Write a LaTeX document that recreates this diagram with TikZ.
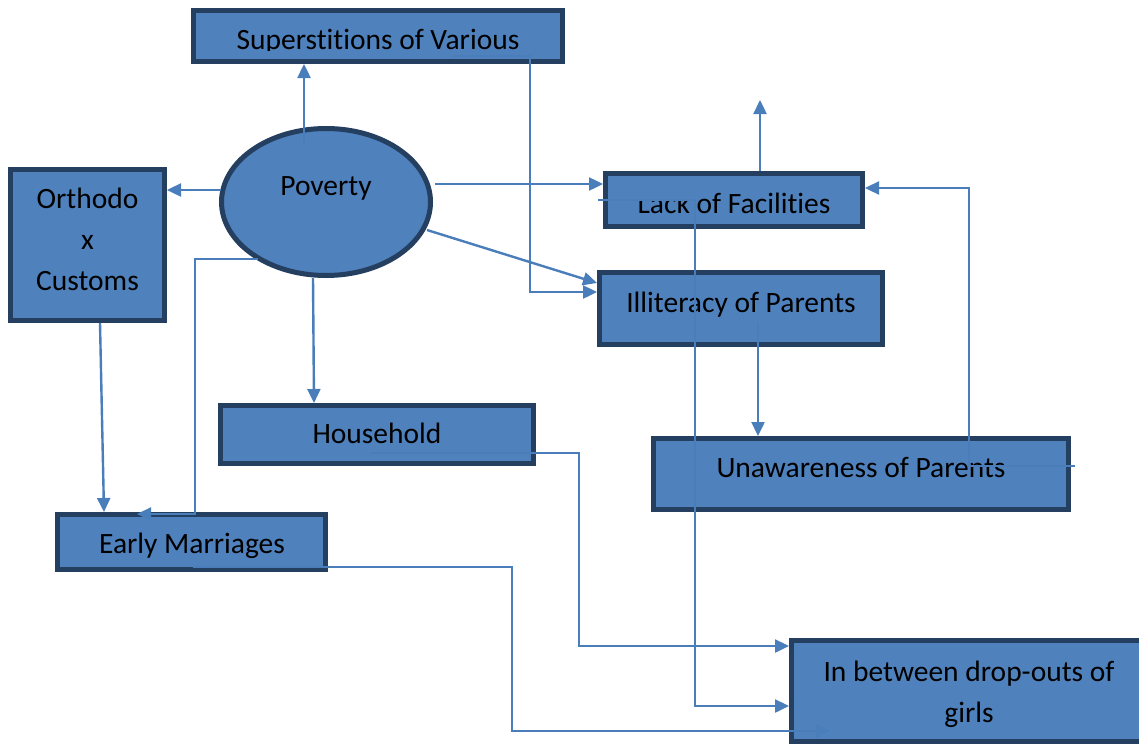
\documentclass[tikz,border=0pt]{standalone}
\usepackage{fontspec}
\setmainfont[Ligatures={NoCommon}]{Carlito}
\usetikzlibrary{arrows.meta,shapes.geometric,calc}
\definecolor{fillc}{HTML}{4F81BD}
\definecolor{bordc}{HTML}{243F60}
\definecolor{linec}{HTML}{4A7EBB}
\tikzset{
  box/.style={draw=bordc, fill=fillc, line width=5pt, inner sep=0pt, rectangle},
  oval/.style={draw=bordc, fill=fillc, line width=5pt, inner sep=0pt, ellipse},
  lbl/.style={anchor=base, inner sep=0pt, font=\fontsize{29.5}{41}\selectfont, text=black, align=center},
  arr/.style={draw=linec, line width=2.4pt, -{Triangle[length=14pt,width=13pt]}},
  conn/.style={draw=linec, line width=2.4pt}
}
\begin{document}
\begin{tikzpicture}[x=1pt,y=-1pt]
\useasboundingbox (0,0) rectangle (1139,744);
% shapes
\node[box, minimum width=369pt, minimum height=51pt] (sup) at (378,36) {};
\node[oval, minimum width=209pt, minimum height=147pt] (pov) at (326,202) {};
\node[box, minimum width=154pt, minimum height=151pt] (ortho) at (87.5,245) {};
\node[box, minimum width=257pt, minimum height=53pt] (lack) at (734,200) {};
\node[box, minimum width=283pt, minimum height=72pt] (illit) at (741,308.5) {};
\node[box, minimum width=313pt, minimum height=58pt] (house) at (377,434.5) {};
\node[box, minimum width=415pt, minimum height=71pt] (unaw) at (861,474) {};
\node[box, minimum width=268pt, minimum height=55pt] (early) at (191.5,542) {};
\node[box, minimum width=356pt, minimum height=101pt] (drop) at (969.5,691) {};
% texts
\begin{scope}
\clip (191,8) rectangle (565,50);
\node[lbl] (supT) at (378,49) {Superstitions of Various};
\end{scope}
\node[lbl] (povT) at (326,195) {Poverty};
\node[lbl] (orthoT) at (87.5,290) {Orthodo\\x\\Customs};
\begin{scope}
\clip (600,199) -- (695,199) -- (695,170) -- (870,170) -- (870,232) -- (600,232) -- cycle;
\node[lbl] (lackT) at (734,213) {Lack of Facilities};
\end{scope}
\node[lbl] (illitT) at (741,312) {Illiteracy of Parents};
\node[lbl] (houseT) at (377,443) {Household};
\node[lbl] (unawT) at (861,477) {Unawareness of Parents};
\node[lbl] (earlyT) at (192,553) {Early Marriages};
\node[lbl] (dropT) at (969,722) {In between drop-outs of\\girls};
% free ends
\coordinate (a1) at (304,144);
\coordinate (a2) at (221,190);
\coordinate (a3) at (435,184);
\coordinate (a4) at (427,230);
\coordinate (a5) at (453,56);
\coordinate (a7) at (1075,466);
\coordinate (a8) at (758,322);
\coordinate (a9) at (598,200);
\coordinate (a10) at (370,453);
\coordinate (a11) at (193,567);
\coordinate (a13) at (258,259);
% connectors
\draw[arr] (a1) -- (a1 |- sup.south);
\draw[arr] (a2) -- (a2 -| ortho.east);
\draw[arr] (a3) -- (a3 -| lack.west);
\draw[arr] (a4) -- ([yshift=25.5pt]illit.west);
\draw[arr] (a5) -- ++(77,0) |- ([yshift=16.5pt]illit.west);
\draw[arr] ([xshift=26pt]lack.north) -- ++(0,-71);
\draw[arr] (a7) -- ++(-106,0) |- ([yshift=12pt]lack.east);
\draw[arr] (a8) -- (a8 |- unaw.north);
\draw[arr] (a9) -- ++(97,0) |- ([yshift=-15pt]drop.west);
\draw[arr] (a10) -- ++(209,0) |- ([yshift=45pt]drop.west);
\draw[arr] (a11) -- ++(319,0) |- ([shift={(41pt,-40pt)}]drop.west);
\draw[arr] ([xshift=12.5pt]ortho.south) -- ([xshift=-87.5pt]early.north);
\draw[arr] (a13) -- ++(-63,0) |- ([shift={(-54.5pt,-2pt)}]early.north);
\draw[arr] ([xshift=-13pt]pov.south) -- ([xshift=-63pt]house.north);
\end{tikzpicture}
\end{document}
